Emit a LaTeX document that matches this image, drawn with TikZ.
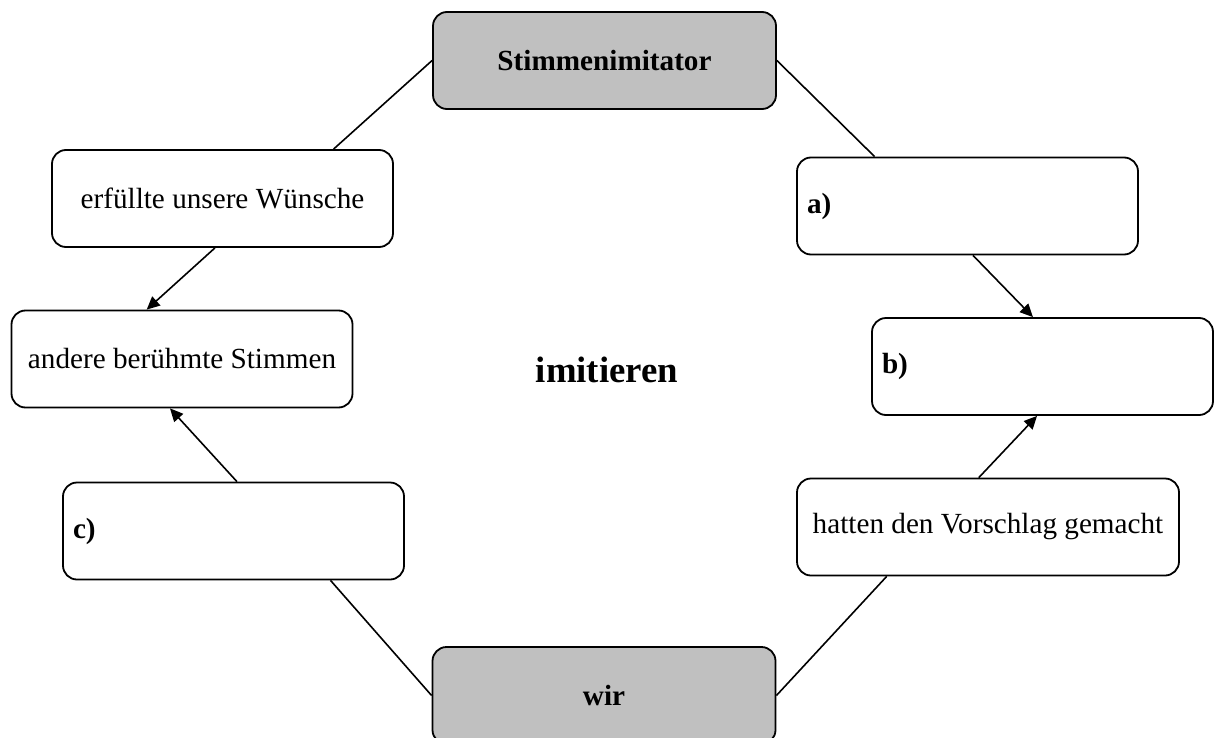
\documentclass[tikz,border=0pt]{standalone}
\usepackage{fontspec}
\setmainfont{Liberation Serif}
\usetikzlibrary{calc,arrows.meta}
\definecolor{boxgray}{RGB}{192,192,192}
\tikzset{
    box/.style={draw, line width=0.9pt, rounded corners=7pt, fill=white, minimum width=170.5pt, minimum height=48.5pt, inner sep=0pt, font=\fontsize{14.6}{17}\selectfont},
    mainbox/.style={box, fill=boxgray, minimum width=171.5pt, font=\fontsize{14.6}{17}\selectfont\bfseries},
    slotbox/.style={box, text width=160.5pt, inner xsep=5pt, align=left, font=\fontsize{14.6}{17}\selectfont\bfseries},
    link/.style={line width=0.8pt},
    linkarrow/.style={link, -{Triangle[length=6.5pt,width=6pt]}}
}
\begin{document}
\begin{tikzpicture}[x=0.5pt, y=-0.5pt]
            \useasboundingbox (0,0) rectangle (1214,738);
            %subject and object boxes (gray)
            \node [mainbox] (stimm) at (604.5, 60.5) {Stimmenimitator};
            \node [mainbox] (wir) at (604, 695.5) {wir};

            %left side
            \node [box] (erf) at (222.5, 198.5) {erfüllte unsere Wünsche};
            \node [box] (andere) at (182, 359) {andere berühmte Stimmen};
            \node [slotbox] (c) at (233.5, 531) {c)};

            %right side: a) and b) are left empty to be filled in
            \node [slotbox] (a) at (967.5, 206) {a)};
            \node [slotbox] (b) at (1042.5, 366.5) {b)};
            \node [box, minimum width=191pt] (hatten) at (988, 527) {hatten den Vorschlag gemacht};

            %verb in the middle
            \node [font=\fontsize{18.4}{22}\selectfont\bfseries] (verb) at (607, 370) {imitieren};

            %links to the gray boxes
            \draw[link] (stimm.west) -- ($(erf.north west)!0.824!(erf.north east)$);
            \draw[link] (stimm.east) -- ($(a.north west)!0.229!(a.north east)$);
            \draw[link] ($(c.south west)!0.783!(c.south east)$) -- (wir.west);
            \draw[link] ($(hatten.south west)!0.236!(hatten.south east)$) -- (wir.east);

            %arrows into andere / b)
            \draw[linkarrow] ($(erf.south west)!0.478!(erf.south east)$) -- ($(andere.north west)!0.397!(andere.north east)$);
            \draw[linkarrow] ($(c.north west)!0.51!(c.north east)$) -- ($(andere.south west)!0.465!(andere.south east)$);
            \draw[linkarrow] ($(a.south west)!0.516!(a.south east)$) -- ($(b.north west)!0.472!(b.north east)$);
            \draw[linkarrow] ($(hatten.north west)!0.476!(hatten.north east)$) -- ($(b.south west)!0.484!(b.south east)$);
\end{tikzpicture}
\end{document}
